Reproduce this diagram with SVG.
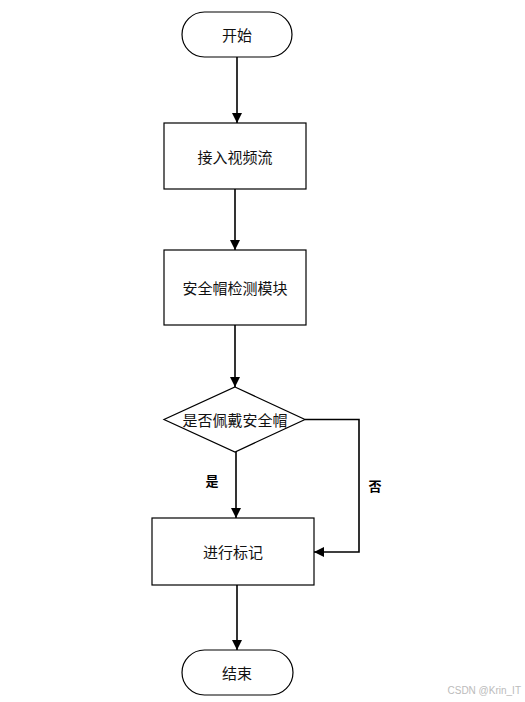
<svg xmlns="http://www.w3.org/2000/svg" width="525" height="702" viewBox="0 0 525 702">
<style>
.s{fill:#fff;stroke:#000;stroke-width:1.2}
.t{font-family:"Noto Sans CJK SC","Liberation Sans",sans-serif;font-size:15px;fill:#111;text-anchor:middle;dominant-baseline:central}
.l{fill:none;stroke:#000;stroke-width:1.6}
.lb{font-family:"Noto Sans CJK SC",sans-serif;font-size:13px;font-weight:bold;fill:#000;text-anchor:middle;dominant-baseline:central}
</style>
<defs>
<marker id="a" viewBox="0 0 10 10" refX="10" refY="5" markerWidth="10" markerHeight="10" markerUnits="userSpaceOnUse" orient="auto">
<path d="M0,0 L10,5 L0,10 Z" fill="#000"/>
</marker>
</defs>
<rect width="525" height="702" fill="#fff"/>
<g id="start"><rect class="s" x="182" y="12" width="110" height="45" rx="22.5"/><text class="t" x="237" y="34.5">开始</text></g>
<g id="n1"><rect class="s" x="164" y="123" width="142" height="66"/><text class="t" x="235" y="156">接入视频流</text></g>
<g id="n2"><rect class="s" x="164" y="250" width="142" height="75"/><text class="t" x="235" y="287.5">安全帽检测模块</text></g>
<g id="d"><polygon class="s" points="235,387 305,419.5 235,452 164,419.5"/><text class="t" x="235" y="419.5">是否佩戴安全帽</text></g>
<g id="n3"><rect class="s" x="152" y="518" width="162" height="67"/><text class="t" x="233" y="551">进行标记</text></g>
<g id="end"><rect class="s" x="182" y="650" width="111" height="45" rx="22.5"/><text class="t" x="237" y="672.5">结束</text></g>
<g id="connectors">
<line class="l" x1="237" y1="57" x2="237" y2="123" marker-end="url(#a)"/>
<line class="l" x1="235" y1="189" x2="235" y2="250" marker-end="url(#a)"/>
<line class="l" x1="235" y1="325" x2="235" y2="387" marker-end="url(#a)"/>
<line class="l" x1="236" y1="452" x2="236" y2="518" marker-end="url(#a)"/>
<polyline class="l" points="305,419.5 359,419.5 359,552 314,552" marker-end="url(#a)"/>
<line class="l" x1="237" y1="585" x2="237" y2="650" marker-end="url(#a)"/>
<text class="lb" x="212" y="480">是</text>
<text class="lb" x="375" y="485">否</text>
</g>
<text x="521" y="694" font-family="Liberation Sans,sans-serif" font-size="10" fill="#bbb" text-anchor="end">CSDN @Krin_IT</text>
</svg>
